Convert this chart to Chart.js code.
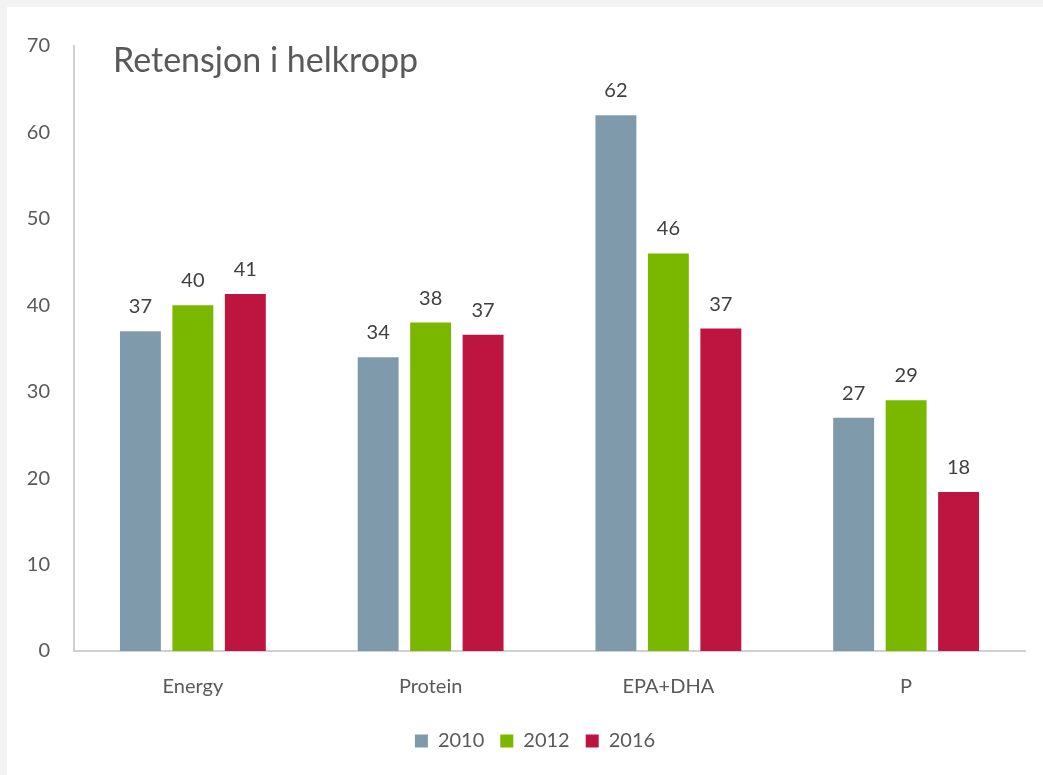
<!DOCTYPE html>
<html>
<head>
<meta charset="utf-8">
<script src="https://cdn.jsdelivr.net/npm/chart.js@4"></script>
<style>
  html, body { margin: 0; padding: 0; background: #f3f3f3; }
  #wrap { position: absolute; left: 7px; top: 7px; width: 1036px; height: 768px; background: #fff; }
</style>
</head>
<body>
<div id="wrap"><canvas id="chart" width="1036" height="768"></canvas></div>
<script>
// chart data
const categories = ['Energy', 'Protein', 'EPA+DHA', 'P'];
const seriesNames = ['2010', '2012', '2016'];
const values2010 = [37, 34, 62, 27];
const values2012 = [40, 38, 46, 29];
const values2016 = [41.3, 36.6, 37.3, 18.4];
const yTicks = [0, 10, 20, 30, 40, 50, 60, 70];
const chartTitle = 'Retensjon i helkropp';

const colors = ['#7f9bab', '#7ab800', '#be1440'];
const textGray = '#595959';
const fontFam = 'Lato, "Open Sans", sans-serif';

// draws the value above each bar and the title inside the plot
const labelsPlugin = {
	id: 'barLabels',
	afterLayout(chart) {
		// legend in the reference sits a bit right of centre
		chart.legend.left += 19;
		chart.legend.right += 19;
	},
	afterDatasetsDraw(chart) {
		const ctx = chart.ctx;
		ctx.save();
		ctx.fillStyle = '#404040';
		ctx.font = '20px ' + fontFam;
		ctx.textAlign = 'center';
		ctx.textBaseline = 'alphabetic';
		chart.data.datasets.forEach((ds, i) => {
			const meta = chart.getDatasetMeta(i);
			meta.data.forEach((bar, j) => {
				ctx.fillText(Math.round(ds.data[j]).toString(), bar.x, bar.y - 18);
			});
		});
		// title sits inside the chart area, top left
		ctx.fillStyle = textGray;
		ctx.font = '34px ' + fontFam;
		ctx.textAlign = 'left';
		ctx.fillText(chartTitle, chart.chartArea.left + 39, chart.chartArea.top + 26);
		ctx.restore();
	}
};

const datasets = [values2010, values2012, values2016].map((vals, i) => ({
	label: seriesNames[i],
	data: vals,
	backgroundColor: colors[i],
	categoryPercentage: 0.662,
	barPercentage: 0.78
}));

new Chart(document.getElementById('chart'), {
	type: 'bar',
	data: { labels: categories, datasets: datasets },
	options: {
		responsive: false,
		animation: false,
		layout: { padding: { top: 39, right: 18, bottom: 14, left: 0 } },
		plugins: {
			legend: {
				position: 'bottom',
				labels: {
					boxWidth: 13,
					boxHeight: 13,
					padding: 16,
					color: textGray,
					font: { size: 20, family: fontFam }
				}
			},
			tooltip: { enabled: false }
		},
		scales: {
			x: {
				grid: { display: false },
				border: { color: '#d0d0d0', width: 2 },
				ticks: { color: textGray, padding: 16, font: { size: 20, family: fontFam } }
			},
			y: {
				min: 0,
				max: 70,
				afterFit: (s) => { s.width = 67; },
				afterBuildTicks: (s) => { s.ticks = yTicks.map(v => ({ value: v })); },
				grid: { display: false, drawTicks: false },
				border: { color: '#d0d0d0', width: 2 },
				ticks: { color: textGray, padding: 24, font: { size: 20, family: fontFam } }
			}
		}
	},
	plugins: [labelsPlugin]
});
</script>
</body>
</html>
